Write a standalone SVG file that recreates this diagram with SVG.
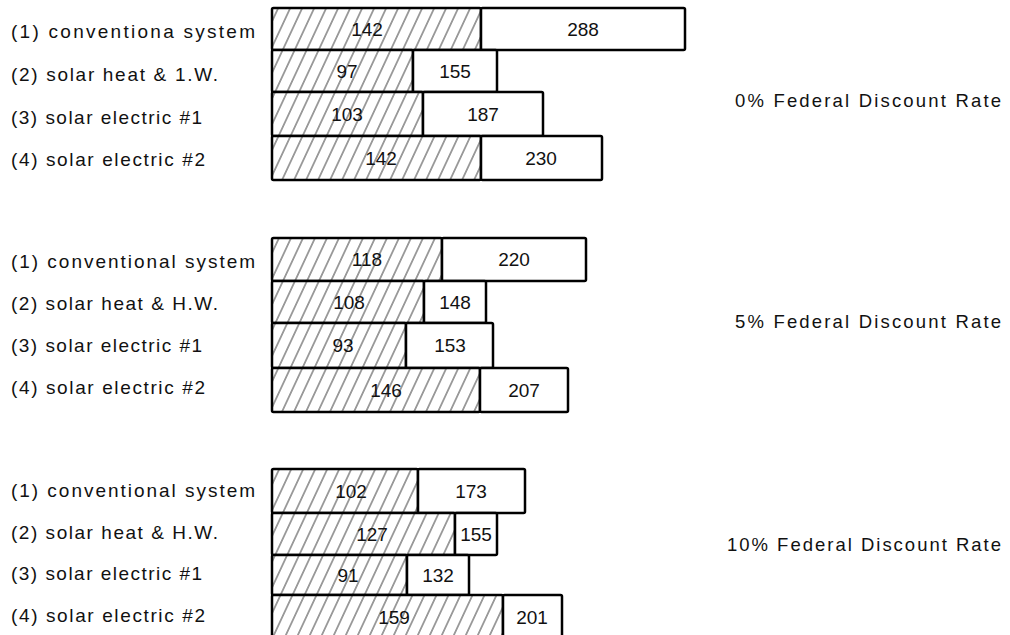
<svg xmlns="http://www.w3.org/2000/svg" width="1010" height="635" viewBox="0 0 1010 635">
<style>
.lbl{font-family:"Liberation Sans",Arial,sans-serif;font-size:19px;fill:#111}
.ttl{font-family:"Liberation Sans",Arial,sans-serif;font-size:18.5px;fill:#111}
.num{font-family:"Liberation Sans",Arial,sans-serif;font-size:19px;fill:#111;text-anchor:middle}
.h{fill:url(#hatch);stroke:#000;stroke-width:2.5}
.w{fill:#fff;stroke:#000;stroke-width:2.5}
</style>
<defs>
<pattern id="hatch" patternUnits="userSpaceOnUse" width="12" height="12" patternTransform="skewX(-25)">
<rect width="12" height="12" fill="#fff"/>
<line x1="6" y1="0" x2="6" y2="12" stroke="#333" stroke-width="1"/>
</pattern>
</defs>
<rect width="1010" height="635" fill="#fff"/>
<g id="connectors"></g>

<!-- Group 1: 0% -->
<g id="g0-labels">
<text class="lbl" x="11" y="38" textLength="244" lengthAdjust="spacing">(1) conventiona  system</text>
<text class="lbl" x="11" y="81" textLength="207" lengthAdjust="spacing">(2) solar heat &amp;  1.W.</text>
<text class="lbl" x="11" y="124" textLength="191" lengthAdjust="spacing">(3) solar electric #1</text>
<text class="lbl" x="11" y="166" textLength="194" lengthAdjust="spacing">(4) solar electric #2</text>
</g>
<g id="g0-r1"><rect class="h" x="272" y="8" width="209" height="42" rx="1.5"/><rect class="w" x="481" y="8" width="204" height="42" rx="1.5"/><text class="num" x="367" y="36">142</text><text class="num" x="583" y="36">288</text></g>
<g id="g0-r2"><rect class="h" x="272" y="50" width="141" height="42" rx="1.5"/><rect class="w" x="413" y="50" width="84" height="42" rx="1.5"/><text class="num" x="347" y="78">97</text><text class="num" x="455" y="78">155</text></g>
<g id="g0-r3"><rect class="h" x="272" y="92" width="151" height="44" rx="1.5"/><rect class="w" x="423" y="92" width="120" height="44" rx="1.5"/><text class="num" x="347" y="121">103</text><text class="num" x="483" y="121">187</text></g>
<g id="g0-r4"><rect class="h" x="272" y="136" width="209" height="44" rx="1.5"/><rect class="w" x="481" y="136" width="121" height="44" rx="1.5"/><text class="num" x="381" y="165">142</text><text class="num" x="541" y="165">230</text></g>
<g id="g0-title"><text class="ttl" x="735" y="107" textLength="266" lengthAdjust="spacing">0% Federal Discount Rate</text></g>

<!-- Group 2: 5% -->
<g id="g5-labels">
<text class="lbl" x="11" y="268" textLength="244" lengthAdjust="spacing">(1) conventional system</text>
<text class="lbl" x="11" y="310" textLength="207" lengthAdjust="spacing">(2) solar heat &amp; H.W.</text>
<text class="lbl" x="11" y="352" textLength="191" lengthAdjust="spacing">(3) solar electric #1</text>
<text class="lbl" x="11" y="394" textLength="194" lengthAdjust="spacing">(4) solar electric #2</text>
</g>
<g id="g5-r1"><rect class="h" x="272" y="238" width="170" height="43" rx="1.5"/><rect class="w" x="442" y="238" width="144" height="43" rx="1.5"/><text class="num" x="367" y="266">118</text><text class="num" x="514" y="266">220</text></g>
<g id="g5-r2"><rect class="h" x="272" y="281" width="152" height="42" rx="1.5"/><rect class="w" x="424" y="281" width="62" height="42" rx="1.5"/><text class="num" x="349" y="309">108</text><text class="num" x="455" y="309">148</text></g>
<g id="g5-r3"><rect class="h" x="272" y="323" width="134" height="45" rx="1.5"/><rect class="w" x="406" y="323" width="87" height="45" rx="1.5"/><text class="num" x="343" y="352">93</text><text class="num" x="450" y="352">153</text></g>
<g id="g5-r4"><rect class="h" x="272" y="368" width="208" height="44" rx="1.5"/><rect class="w" x="480" y="368" width="88" height="44" rx="1.5"/><text class="num" x="386" y="397">146</text><text class="num" x="524" y="397">207</text></g>
<g id="g5-title"><text class="ttl" x="735" y="328" textLength="266" lengthAdjust="spacing">5% Federal Discount Rate</text></g>

<!-- Group 3: 10% -->
<g id="g10-labels">
<text class="lbl" x="11" y="497" textLength="244" lengthAdjust="spacing">(1) conventional system</text>
<text class="lbl" x="11" y="539" textLength="207" lengthAdjust="spacing">(2) solar heat &amp; H.W.</text>
<text class="lbl" x="11" y="580" textLength="191" lengthAdjust="spacing">(3) solar electric #1</text>
<text class="lbl" x="11" y="622" textLength="194" lengthAdjust="spacing">(4) solar electric #2</text>
</g>
<g id="g10-r1"><rect class="h" x="272" y="469" width="146" height="44" rx="1.5"/><rect class="w" x="418" y="469" width="107" height="44" rx="1.5"/><text class="num" x="351" y="498">102</text><text class="num" x="471" y="498">173</text></g>
<g id="g10-r2"><rect class="h" x="272" y="513" width="183" height="42" rx="1.5"/><rect class="w" x="455" y="513" width="42" height="42" rx="1.5"/><text class="num" x="372" y="541">127</text><text class="num" x="476" y="541">155</text></g>
<g id="g10-r3"><rect class="h" x="272" y="555" width="135" height="40" rx="1.5"/><rect class="w" x="407" y="555" width="62" height="40" rx="1.5"/><text class="num" x="348" y="582">91</text><text class="num" x="438" y="582">132</text></g>
<g id="g10-r4"><rect class="h" x="272" y="595" width="231" height="45" rx="1.5"/><rect class="w" x="503" y="595" width="59" height="45" rx="1.5"/><text class="num" x="394" y="624">159</text><text class="num" x="532" y="624">201</text></g>
<g id="g10-title"><text class="ttl" x="727" y="551" textLength="274" lengthAdjust="spacing">10% Federal Discount Rate</text></g>
</svg>
